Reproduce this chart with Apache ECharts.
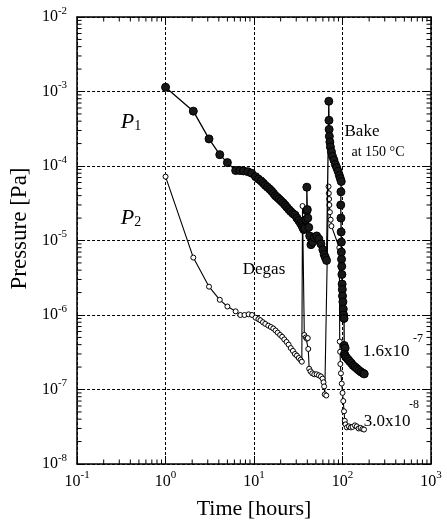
<!DOCTYPE html>
<html>
<head>
<meta charset="utf-8">
<script src="https://cdn.jsdelivr.net/npm/echarts@6/dist/echarts.min.js"></script>
<style>
html,body{margin:0;padding:0;background:#fff;}
#chart{width:447px;height:525px;}
</style>
</head>
<body>
<div id="chart"></div>
<script>
// ---- data ----
const p1Hours = [1.0, 2.06, 3.1, 4.1, 5.0, 6.2, 6.9, 7.6, 8.5, 9.4, 10.4, 11.2, 12.0, 12.7, 13.4, 14.2, 15.0, 15.8, 16.6, 17.4,
  18.3, 19.2, 20.2, 21.3, 22.4, 23.5, 24.8, 26.0, 27.5, 29.0, 30.5, 32.0, 33.5, 34.7, 35.5, 36.5, 37.5, 38.5, 39.5, 39.5,
  40.0, 40.5, 41.5, 42.6, 44.0, 46.0, 48.0, 51.0, 54.0, 57.0, 60.0, 62.0, 64.0, 66.0, 70.0, 70.3, 70.6, 71.0, 72.0, 73.0,
  75.0, 77.0, 80.0, 83.0, 86.0, 89.0, 92.0, 94.5, 96.8, 96.0, 95.5, 96.0, 96.5, 97.0, 97.0, 97.5, 98.0, 98.5, 99.0, 99.5,
  100, 101, 102, 103, 104, 104.5, 107, 105, 107, 110, 115, 120, 126, 132, 139, 146, 154, 162, 170, 176];
const p1Pressure = [1.14e-3, 5.45e-4, 2.31e-4, 1.42e-4, 1.11e-4, 8.7e-5, 8.7e-5, 8.6e-5, 8.4e-5, 8.0e-5, 7.2e-5, 6.7e-5, 6.3e-5, 5.9e-5, 5.5e-5, 5.2e-5, 4.9e-5, 4.6e-5, 4.3e-5, 4.0e-5,
  3.8e-5, 3.6e-5, 3.4e-5, 3.2e-5, 3.0e-5, 2.8e-5, 2.6e-5, 2.45e-5, 2.3e-5, 2.2e-5, 2.0e-5, 1.85e-5, 1.7e-5, 1.6e-5, 1.5e-5, 1.4e-5, 1.45e-5, 1.9e-5, 2.5e-5, 5.2e-5,
  2.6e-5, 2.0e-5, 1.5e-5, 1.15e-5, 8.8e-6, 9.5e-6, 1.1e-5, 1.15e-5, 1.05e-5, 9.0e-6, 7.5e-6, 6.5e-6, 5.9e-6, 5.4e-6, 7.4e-4, 4.1e-4, 3.1e-4, 2.5e-4, 2.1e-4, 1.8e-4,
  1.55e-4, 1.35e-4, 1.2e-4, 1.05e-4, 9.5e-5, 8.5e-5, 7.5e-5, 6.8e-5, 6.2e-5, 4.5e-5, 3.0e-5, 2.0e-5, 1.3e-5, 9.5e-6, 7.0e-6, 5.6e-6, 4.5e-6, 3.5e-6, 2.6e-6, 2.2e-6,
  1.8e-6, 1.5e-6, 1.2e-6, 1.0e-6, 9.0e-7, 3.9e-7, 3.6e-7, 3.0e-7, 2.85e-7, 2.7e-7, 2.55e-7, 2.4e-7, 2.25e-7, 2.1e-7, 2.0e-7, 1.9e-7, 1.8e-7, 1.72e-7, 1.66e-7, 1.62e-7];

const p2Hours = [1.0, 2.06, 3.1, 4.1, 5.0, 6.2, 7.0, 7.8, 8.7, 9.5, 10.4, 11.2, 11.8, 12.6, 13.4, 14.5, 15.5, 16.5, 17.5, 18.5,
  19.7, 20.8, 22.0, 23.3, 24.6, 26.0, 27.5, 29.0, 30.5, 32.0, 33.5, 34.7, 35.3, 37.0, 38.5, 39.5, 40.5, 41.0, 42.0, 43.5,
  45.5, 48.0, 51.0, 54.0, 57.0, 59.5, 61.0, 62.0, 63.0, 65.5, 69.5, 70.0, 70.5, 71.0, 72.0, 73.5, 75.0, 92.0, 93.0, 94.0,
  94.5, 96.0, 98.0, 100, 102, 104, 106, 108, 112, 118, 124, 130, 138, 145, 152, 160, 168, 175];
const p2Pressure = [7.2e-5, 5.9e-6, 2.4e-6, 1.6e-6, 1.3e-6, 1.12e-6, 1.0e-6, 1.0e-6, 1.02e-6, 1.0e-6, 9.2e-7, 8.8e-7, 8.5e-7, 8.0e-7, 7.6e-7, 7.2e-7, 6.9e-7, 6.6e-7, 6.2e-7, 5.8e-7,
  5.4e-7, 5.1e-7, 4.7e-7, 4.35e-7, 4.0e-7, 3.6e-7, 3.3e-7, 3.0e-7, 2.85e-7, 2.65e-7, 2.5e-7, 2.36e-7, 2.9e-5, 5.4e-7, 5.0e-7, 4.8e-7, 4.9e-7, 3.5e-7, 1.9e-7, 1.75e-7,
  1.65e-7, 1.6e-7, 1.6e-7, 1.55e-7, 1.5e-7, 1.4e-7, 1.25e-7, 1.1e-7, 8.6e-8, 8.3e-8, 5.3e-5, 4.3e-5, 3.6e-5, 3.0e-5, 2.4e-5, 1.9e-5, 1.56e-5, 8.0e-6, 4.4e-7, 3.2e-7,
  2.2e-7, 1.65e-7, 1.2e-7, 9.0e-8, 7.0e-8, 5.1e-8, 3.8e-8, 3.4e-8, 3.1e-8, 3.2e-8, 3.1e-8, 3.15e-8, 3.3e-8, 3.2e-8, 3.0e-8, 3.05e-8, 2.95e-8, 2.9e-8];

const xDecades = [-1, 0, 1, 2, 3];          // tick label exponents, time axis
const yDecades = [-8, -7, -6, -5, -4, -3, -2]; // tick label exponents, pressure axis

const SERIF = '"Liberation Serif", "DejaVu Serif", serif';

const chart = echarts.init(document.getElementById('chart'), null, {renderer: 'canvas'});

function expLabel(v) {
  const e = Math.round(Math.log10(v));
  return '{b|10}{s|' + e + '}';
}
const tickRich = {
  b: {fontFamily: SERIF, fontSize: 16, color: '#000'},
  s: {fontFamily: SERIF, fontSize: 11, color: '#000', padding: [0, 0, 12, 0]}
};

const axisLineStyle = {color: '#000', width: 1.5};

const option = {
  animation: false,
  backgroundColor: '#fff',
  grid: {left: 72, right: 16, top: 17, bottom: 57, containLabel: false},
  xAxis: [{
    type: 'log', logBase: 10,
    min: Math.pow(10, xDecades[0]), max: Math.pow(10, xDecades[xDecades.length - 1]),
    interval: 1,
    position: 'bottom',
    axisLine: {show: true, lineStyle: axisLineStyle},
    axisTick: {show: true, inside: true, length: 8, lineStyle: {color: '#000', width: 1}},
    minorTick: {show: false},
    axisLabel: {formatter: expLabel, rich: tickRich, margin: 6},
    splitLine: {show: true, lineStyle: {color: '#000', width: 1, type: [3, 2]}},
    name: 'Time [hours]', nameLocation: 'middle', nameGap: 34,
    nameTextStyle: {fontFamily: SERIF, fontSize: 22, color: '#000'}
  }, {
    type: 'log', logBase: 10,
    min: Math.pow(10, xDecades[0]), max: Math.pow(10, xDecades[xDecades.length - 1]),
    interval: 1,
    position: 'top',
    axisLine: {show: true, lineStyle: axisLineStyle},
    axisTick: {show: true, inside: true, length: 8, lineStyle: {color: '#000', width: 1}},
    axisLabel: {show: false},
    splitLine: {show: false}
  }],
  yAxis: [{
    type: 'log', logBase: 10,
    min: Math.pow(10, yDecades[0]), max: Math.pow(10, yDecades[yDecades.length - 1]),
    interval: 1,
    position: 'left',
    axisLine: {show: true, lineStyle: axisLineStyle},
    axisTick: {show: true, inside: true, length: 8, lineStyle: {color: '#000', width: 1}},
    axisLabel: {formatter: expLabel, rich: tickRich, margin: 10},
    splitLine: {show: true, lineStyle: {color: '#000', width: 1, type: [3, 2]}},
    name: 'Pressure [Pa]', nameLocation: 'middle', nameGap: 42,
    nameTextStyle: {fontFamily: SERIF, fontSize: 23, color: '#000', padding: [0, 0, 0, 24]}
  }, {
    type: 'log', logBase: 10,
    min: Math.pow(10, yDecades[0]), max: Math.pow(10, yDecades[yDecades.length - 1]),
    interval: 1,
    position: 'right',
    axisLine: {show: true, lineStyle: axisLineStyle},
    axisTick: {show: true, inside: true, length: 8, lineStyle: {color: '#000', width: 1}},
    axisLabel: {show: false},
    splitLine: {show: false}
  }],
  series: [{
    name: 'P2', type: 'line',
    data: p2Hours.map((t, i) => [t, p2Pressure[i]]),
    symbol: 'circle', symbolSize: 5,
    itemStyle: {color: '#fff', borderColor: '#000', borderWidth: 1},
    lineStyle: {color: '#000', width: 1.1},
    z: 3
  }, {
    name: 'P1', type: 'line',
    data: p1Hours.map((t, i) => [t, p1Pressure[i]]),
    symbol: 'circle', symbolSize: 8,
    itemStyle: {color: '#181818', borderColor: '#000', borderWidth: 1},
    lineStyle: {color: '#000', width: 1.3},
    z: 4
  }]
};
chart.setOption(option);

// ---- minor log ticks (2..9 within each decade) on all four sides, and annotations ----
const els = [];
const gx0 = chart.convertToPixel({xAxisIndex: 0}, Math.pow(10, xDecades[0]));
const gx1 = chart.convertToPixel({xAxisIndex: 0}, Math.pow(10, xDecades[xDecades.length - 1]));
const gy0 = chart.convertToPixel({yAxisIndex: 0}, Math.pow(10, yDecades[0]));
const gy1 = chart.convertToPixel({yAxisIndex: 0}, Math.pow(10, yDecades[yDecades.length - 1]));
const minorLen = 4.5;
for (let d = xDecades[0]; d < xDecades[xDecades.length - 1]; d++) {
  for (let m = 2; m <= 9; m++) {
    const px = chart.convertToPixel({xAxisIndex: 0}, m * Math.pow(10, d));
    els.push({type: 'line', shape: {x1: px, y1: gy0, x2: px, y2: gy0 - minorLen}, style: {stroke: '#000', lineWidth: 1}, silent: true});
    els.push({type: 'line', shape: {x1: px, y1: gy1, x2: px, y2: gy1 + minorLen}, style: {stroke: '#000', lineWidth: 1}, silent: true});
  }
}
for (let d = yDecades[0]; d < yDecades[yDecades.length - 1]; d++) {
  for (let m = 2; m <= 9; m++) {
    const py = chart.convertToPixel({yAxisIndex: 0}, m * Math.pow(10, d));
    els.push({type: 'line', shape: {x1: gx0, y1: py, x2: gx0 + minorLen, y2: py}, style: {stroke: '#000', lineWidth: 1}, silent: true});
    els.push({type: 'line', shape: {x1: gx1, y1: py, x2: gx1 - minorLen, y2: py}, style: {stroke: '#000', lineWidth: 1}, silent: true});
  }
}

function txt(x, y, text, size, extra) {
  return {
    type: 'text', x: x, y: y, silent: true, z: 10,
    style: Object.assign({text: text, fontFamily: SERIF, fontSize: size, fill: '#000', align: 'center', verticalAlign: 'middle'}, extra || {})
  };
}
const pRich = {
  p: {fontFamily: SERIF, fontSize: 22, fontStyle: 'italic', fill: '#000'},
  s: {fontFamily: SERIF, fontSize: 14, fill: '#000', padding: [8, 0, 0, 0]}
};
els.push({type: 'text', x: 131, y: 122, silent: true, z: 10,
  style: {text: '{p|P}{s|1}', align: 'center', verticalAlign: 'middle', rich: pRich}});
els.push({type: 'text', x: 131, y: 218, silent: true, z: 10,
  style: {text: '{p|P}{s|2}', align: 'center', verticalAlign: 'middle', rich: pRich}});
els.push(txt(362, 132, 'Bake', 17));
els.push(txt(378, 152, 'at 150 °C', 14));
els.push(txt(264, 270, 'Degas', 17));
els.push(txt(386, 352, '1.6x10', 17));
els.push(txt(418, 339, '-7', 12));
els.push(txt(387, 422, '3.0x10', 17));
els.push(txt(414, 405, '-8', 12));

chart.setOption({graphic: {elements: els}});
</script>
</body>
</html>
